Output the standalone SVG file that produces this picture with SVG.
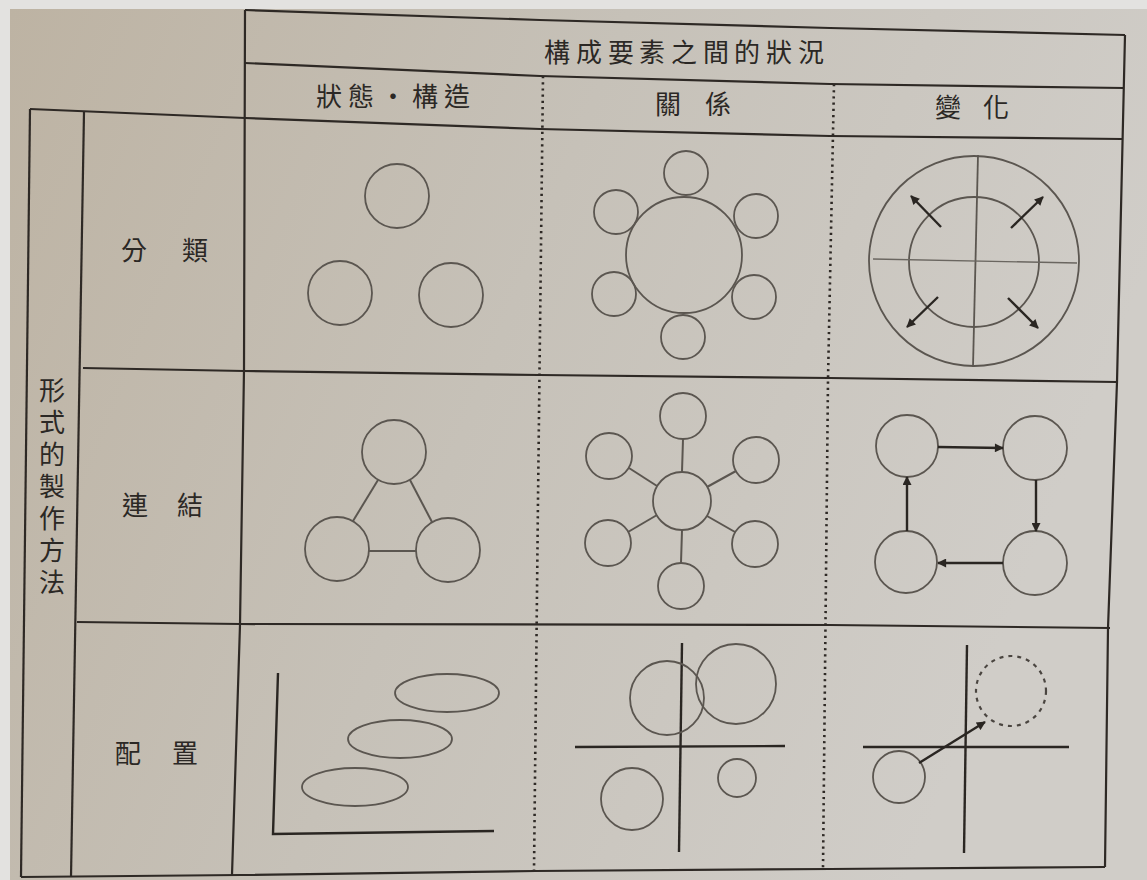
<svg xmlns="http://www.w3.org/2000/svg" width="1147" height="880" viewBox="0 0 1147 880">
<defs>
<linearGradient id="paper" x1="0" y1="0" x2="1" y2="0.3">
<stop offset="0" stop-color="#bdb3a3"/>
<stop offset="0.5" stop-color="#c6c1b8"/>
<stop offset="1" stop-color="#d0cdc8"/>
</linearGradient>
<marker id="ah" viewBox="0 0 10 10" refX="9" refY="5" markerWidth="11" markerHeight="9" markerUnits="userSpaceOnUse" orient="auto">
<path d="M0,0 L10,5 L0,10 z" fill="#2a2622"/>
</marker>
<style>
.grid{fill:none;stroke:#2e2925;stroke-width:2.2;stroke-linejoin:round}
.dot{fill:none;stroke:#2e2925;stroke-width:2.6;stroke-dasharray:2.2 4}
.c{fill:none;stroke:#5b5650;stroke-width:1.8}
.thin{fill:none;stroke:#6a6660;stroke-width:1.4}
.ax{fill:none;stroke:#2a2622;stroke-width:2.4}
.sp{fill:none;stroke:#5b5650;stroke-width:2}
.ar{fill:none;stroke:#2a2622;stroke-width:2.4;marker-end:url(#ah)}
.dash{fill:none;stroke:#4a4540;stroke-width:2.2;stroke-dasharray:4 5}
.t{font-family:"Noto Sans CJK TC","Noto Sans CJK SC",sans-serif;fill:#2b2825;font-size:26px}
</style>
</defs>
<rect x="0" y="0" width="1147" height="880" fill="#e3e2e0"/>
<rect x="10" y="9" width="1137" height="871" fill="url(#paper)"/>

<g id="table">
<polyline class="grid" points="245,10 540,20 830,28 1125,35"/>
<polyline class="grid" points="245,63 540,76 830,84 1124,88"/>
<polyline class="grid" points="30,109 245,118 540,129 830,136 1122,139"/>
<polyline class="grid" points="83,368 244,371 540,375 830,378 1117,382"/>
<polyline class="grid" points="77,622 240,624 830,625 1110,628"/>
<polyline class="grid" points="21,877 240,875 535,871 830,869 1105,867"/>
<line class="grid" x1="30" y1="109" x2="21" y2="877"/>
<line class="grid" x1="84" y1="112" x2="71" y2="877"/>
<polyline class="grid" points="245,10 244,370 240,625 232,875"/>
<polyline class="grid" points="1125,35 1117,382 1108,628 1105,867"/>
<polyline class="dot" points="543,76 538,500 534,871"/>
<polyline class="dot" points="834,84 828,380 823,869"/>
</g>

<g id="header-title"><text class="t" font-size="25" x="544 576 608 639 671 703 734 766 798" y="62">構成要素之間的狀況</text></g>
<g id="header-state"><text class="t" x="316 348 380 412 444" y="106">狀態・構造</text></g>
<g id="header-relation"><text class="t" font-size="27" x="655 705" y="114">關係</text></g>
<g id="header-change"><text class="t" font-size="27" x="935 983" y="117">變化</text></g>
<g id="label-method"><text class="t" font-size="27" text-anchor="middle" x="52 52 52 52 52 52 52" y="400 432 464 496 528 560 592">形式的製作方法</text></g>
<g id="label-classify"><text class="t" x="121 182" y="260">分類</text></g>
<g id="label-link"><text class="t" x="122 177" y="515">連結</text></g>
<g id="label-place"><text class="t" x="115 172" y="763">配置</text></g>

<g id="cell-classify-state">
<circle class="c" cx="397" cy="196" r="32"/>
<circle class="c" cx="340" cy="293" r="32"/>
<circle class="c" cx="451" cy="295" r="32"/>
</g>
<g id="cell-classify-relation">
<circle class="c" cx="684" cy="255" r="58"/>
<circle class="c" cx="686" cy="173" r="22"/>
<circle class="c" cx="616" cy="212" r="22"/>
<circle class="c" cx="756" cy="216" r="22"/>
<circle class="c" cx="614" cy="294" r="22"/>
<circle class="c" cx="754" cy="297" r="22"/>
<circle class="c" cx="683" cy="337" r="22"/>
</g>
<g id="cell-classify-change">
<circle class="c" cx="974" cy="261" r="105"/>
<circle class="c" cx="974" cy="262" r="65"/>
<line class="c" x1="978" y1="155" x2="973" y2="367"/>
<line class="thin" x1="873" y1="259" x2="1077" y2="263"/>
</g>
<g id="cell-link-state">
<circle class="c" cx="394" cy="452" r="32"/>
<circle class="c" cx="337" cy="549" r="32"/>
<circle class="c" cx="448" cy="550" r="32"/>
</g>
<g id="cell-link-relation">
<circle class="c" cx="682" cy="501" r="29"/>
<circle class="c" cx="683" cy="416" r="23"/>
<circle class="c" cx="609" cy="456" r="23"/>
<circle class="c" cx="756" cy="460" r="23"/>
<circle class="c" cx="608" cy="543" r="23"/>
<circle class="c" cx="755" cy="544" r="23"/>
<circle class="c" cx="681" cy="586" r="23"/>
</g>
<g id="cell-link-change">
<circle class="c" cx="907" cy="446" r="31"/>
<circle class="c" cx="1035" cy="448" r="32"/>
<circle class="c" cx="906" cy="562" r="31"/>
<circle class="c" cx="1035" cy="563" r="32"/>
</g>
<g id="cell-place-state">
<polyline class="ax" points="278,673 273,834 494,831"/>
<ellipse class="c" cx="447" cy="693" rx="52" ry="19"/>
<ellipse class="c" cx="400" cy="739" rx="52" ry="19"/>
<ellipse class="c" cx="355" cy="787" rx="53" ry="19"/>
</g>
<g id="cell-place-relation">
<line class="ax" x1="682" y1="643" x2="679" y2="852"/>
<line class="ax" x1="575" y1="747" x2="785" y2="746"/>
<circle class="c" cx="667" cy="698" r="37"/>
<circle class="c" cx="736" cy="684" r="40"/>
<circle class="c" cx="632" cy="799" r="31"/>
<circle class="c" cx="737" cy="778" r="19"/>
</g>
<g id="cell-place-change">
<line class="ax" x1="967" y1="645" x2="964" y2="853"/>
<line class="ax" x1="863" y1="747" x2="1069" y2="747"/>
<circle class="c" cx="899" cy="777" r="26"/>
<circle class="dash" cx="1011" cy="691" r="35"/>
</g>

<g id="connectors">
<line class="ar" x1="941" y1="227" x2="911" y2="196"/>
<line class="ar" x1="1011" y1="228" x2="1043" y2="197"/>
<line class="ar" x1="938" y1="297" x2="907" y2="327"/>
<line class="ar" x1="1008" y1="298" x2="1038" y2="328"/>
<line class="sp" x1="378" y1="480" x2="353" y2="521"/>
<line class="sp" x1="410" y1="480" x2="432" y2="522"/>
<line class="sp" x1="369" y1="551" x2="416" y2="551"/>
<line class="sp" x1="683" y1="439" x2="682" y2="472"/>
<line class="sp" x1="629" y1="468" x2="657" y2="486"/>
<line class="sp" x1="736" y1="471" x2="707" y2="487"/>
<line class="sp" x1="628" y1="532" x2="657" y2="515"/>
<line class="sp" x1="735" y1="532" x2="707" y2="516"/>
<line class="sp" x1="681" y1="563" x2="682" y2="530"/>
<line class="ar" x1="938" y1="447" x2="1003" y2="448"/>
<line class="ar" x1="1036" y1="480" x2="1036" y2="531"/>
<line class="ar" x1="1003" y1="563" x2="938" y2="563"/>
<line class="ar" x1="907" y1="531" x2="907" y2="477"/>
<line class="ar" x1="919" y1="763" x2="985" y2="722"/>
</g>
</svg>
